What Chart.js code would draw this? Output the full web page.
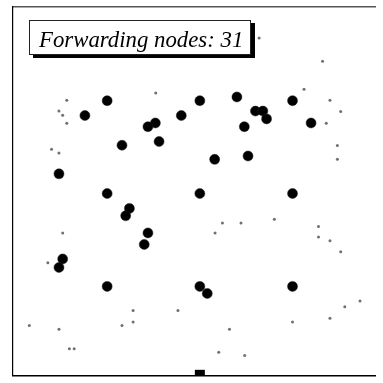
<!DOCTYPE html>
<html>
<head>
<meta charset="utf-8">
<script src="https://cdn.jsdelivr.net/npm/chart.js@4"></script>
<style>
    html, body { margin: 0; padding: 0; background: #fff; overflow: hidden; }
    #wrap { position: relative; width: 383px; height: 383px; overflow: hidden; }
    #field { display: block; }
    #label {
        position: absolute;
        left: 29px;
        top: 20px;
        width: 222px;
        height: 35px;
        box-sizing: border-box;
        border: 1px solid #222;
        background: #fff;
        box-shadow: 4px 3px 0 #000;
        padding: 3px 0 0 9px;
        font: italic 22.8px "Liberation Serif", "DejaVu Serif", serif;
        line-height: 31px;
        white-space: nowrap;
        color: #000;
    }
</style>
</head>
<body>
<div id="wrap">
    <canvas id="field" width="383" height="383"></canvas>
    <div id="label">Forwarding nodes: 31</div>
</div>
<script>
// Forwarding nodes (big black dots), field coordinates 0..1000
const forwardX = [250, 190, 450, 380, 360, 390, 290, 120, 500, 600, 750, 650, 670, 680, 620, 800,
    540, 630, 250, 310, 300, 360, 350, 130, 120, 250, 500, 750, 500, 520, 750];
const forwardY = [750, 710, 710, 690, 680, 640, 630, 553, 750, 760, 750, 722, 722, 701, 680, 690,
    592, 601, 500, 460, 440, 394, 363, 324, 301, 250, 500, 500, 250, 231, 250];

// Other nodes (small grey dots)
const otherX = [141, 120, 130, 141, 381, 100, 120, 660, 831, 781, 851, 880, 841, 871, 871,
    130, 90, 320, 441, 40, 120, 290, 320, 148, 161, 561, 611, 541, 701, 820, 820, 851, 880,
    932, 891, 851, 750, 580, 551, 621];
const otherY = [751, 722, 711, 689, 771, 619, 609, 919, 856, 781, 751, 721, 689, 629, 592,
    394, 314, 185, 185, 145, 135, 145, 154, 82, 82, 421, 421, 394, 431, 411, 383, 373, 343,
    211, 195, 164, 154, 135, 73, 64];

// Sink node (square at the bottom)
const sinkX = [500];
const sinkY = [12];

function toPoints(xs, ys) {
    return xs.map((x, i) => ({ x: x, y: ys[i] }));
}

const noTicks = { display: false };
const noGrid = { display: false, drawTicks: false };

new Chart(document.getElementById('field').getContext('2d'), {
    type: 'scatter',
    data: {
        datasets: [
            {
                label: 'Other nodes',
                data: toPoints(otherX, otherY),
                pointRadius: 1.5,
                pointBackgroundColor: '#707070',
                pointBorderWidth: 0,
            },
            {
                label: 'Forwarding nodes',
                data: toPoints(forwardX, forwardY),
                pointRadius: 5,
                pointBackgroundColor: '#000',
                pointBorderColor: '#222',
                pointBorderWidth: 0.5,
            },
            {
                label: 'Sink',
                data: toPoints(sinkX, sinkY),
                pointStyle: 'rect',
                pointRadius: 7.07,
                pointBackgroundColor: '#000',
                pointBorderWidth: 0,
                clip: 0,
            },
        ],
    },
    options: {
        responsive: false,
        animation: false,
        layout: { padding: { left: 13, top: 5, right: 0, bottom: 2 } },
        plugins: {
            legend: { display: false },
            tooltip: { enabled: false },
        },
        scales: {
            x: {
                type: 'linear',
                position: 'bottom',
                min: -4,
                max: 975,
                ticks: noTicks,
                grid: noGrid,
                border: { display: true, color: '#000', width: 1.5 },
            },
            xTop: {
                type: 'linear',
                axis: 'x',
                position: 'top',
                min: -4,
                max: 975,
                ticks: noTicks,
                grid: noGrid,
                border: { display: true, color: '#555', width: 1.5 },
            },
            y: {
                type: 'linear',
                position: 'left',
                min: 9,
                max: 1002,
                ticks: noTicks,
                grid: noGrid,
                border: { display: true, color: '#000', width: 1.2 },
            },
        },
    },
});
</script>
</body>
</html>
